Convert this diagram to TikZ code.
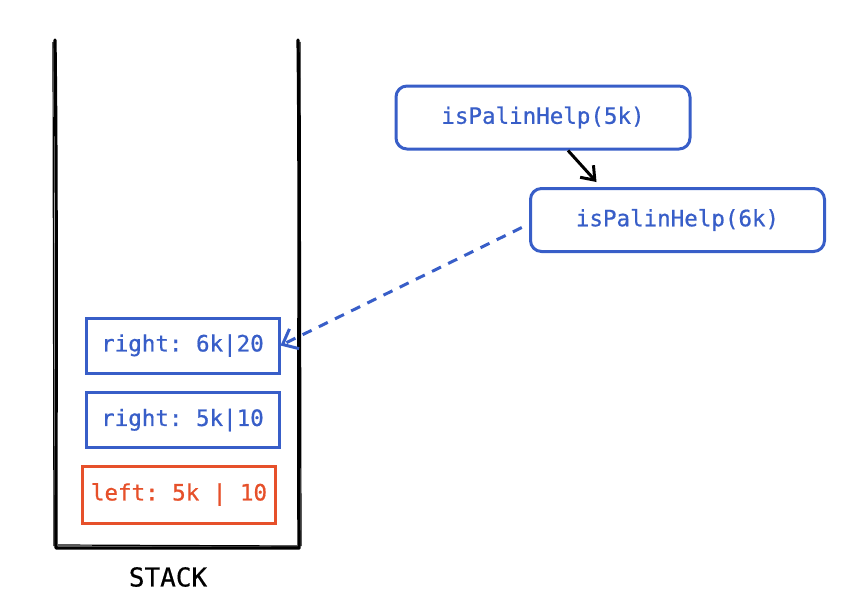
\documentclass[tikz,border=0pt]{standalone}
\usepackage{fontspec}
\setmonofont[FakeBold=0.7]{DejaVu Sans Mono}
\newfontfamily\stackfont[FakeBold=0.5]{DejaVu Sans Mono}
\usetikzlibrary{arrows.meta}
\definecolor{codeblue}{RGB}{56,94,200}
\definecolor{codered}{RGB}{230,80,42}
\tikzset{
  frame/.style={draw=codeblue, line width=3pt, font=\ttfamily\fontsize{22.5}{26}\selectfont, text=codeblue, inner sep=0pt},
  framered/.style={frame, draw=codered, text=codered},
  callbox/.style={frame, rounded corners=11pt, minimum width=294pt, minimum height=63pt},
  stackbox/.style={frame, minimum width=193pt, minimum height=55pt},
  wall/.style={line width=3.2pt, black, line join=round, line cap=round},
}
\begin{document}
\begin{tikzpicture}[x=1pt,y=-1pt]
\useasboundingbox (0,0) rectangle (856,610);
% stack container
\draw[wall] (55,40) .. controls (57,200) and (56,400) .. (56,548) -- (299,548) .. controls (298,400) and (300,200) .. (298,40);
\draw[line width=1.2pt] (53,42) -- (54,546);
\draw[line width=1.2pt] (300,42) -- (301,546);
\draw[line width=1.2pt] (58,545) -- (297,546);
\node[font=\stackfont\fontsize{26}{30}\selectfont] (stack) at (168,577) {STACK};
% stack frames
\node[stackbox] (r6) at (182.5,345.5) {right: 6k|20};
\node[stackbox] (r5) at (182.5,420) {right: 5k|10};
\node[stackbox, framered, minimum height=57pt] (l5) at (179,494.5) {left: 5k | 10};
% calls
\node[callbox] (p5) at (543,117.5) {isPalinHelp(5k)};
\node[callbox] (p6) at (677.5,220) {isPalinHelp(6k)};
% arrows
\draw[line width=3pt, -{Straight Barb[length=12pt,width=18pt,line width=3pt]}] ([xshift=25pt]p5.south) -- ([xshift=-81pt,yshift=5pt]p6.north);
\draw[codeblue, line width=3pt, dash pattern=on 10pt off 8pt, shorten <=8pt, -{Straight Barb[length=13pt,width=22pt,line width=3pt]}] ([yshift=-4pt]p6.west) -- (r6.east);
\end{tikzpicture}
\end{document}
